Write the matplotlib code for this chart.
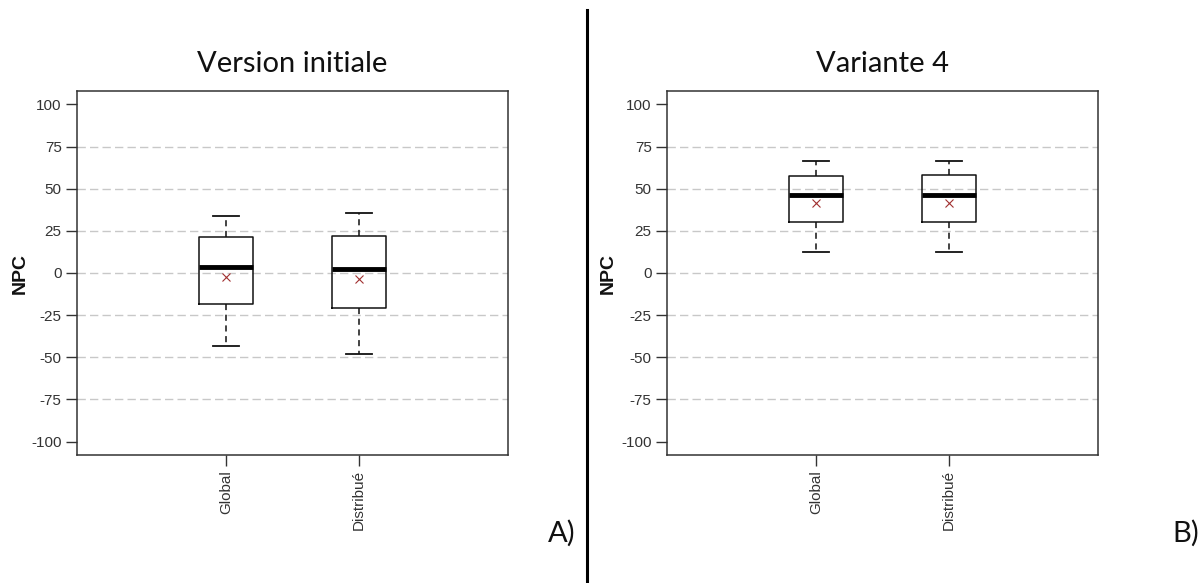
import matplotlib
matplotlib.use("Agg")
import matplotlib.pyplot as plt
from matplotlib.lines import Line2D

categories = ["Global", "Distribué"]
titles = ["Version initiale", "Variante 4"]
panel_labels = ["A)", "B)"]

# Panel A: Version initiale
a_whislo = [-43.1, -47.9]
a_q1 = [-18.1, -21.0]
a_med = [3.3, 2.5]
a_q3 = [21.6, 22.2]
a_whishi = [34.1, 35.4]
a_mean = [-2.5, -3.3]

# Panel B: Variante 4
b_whislo = [12.2, 12.2]
b_q1 = [30.0, 30.0]
b_med = [46.4, 46.4]
b_q3 = [57.4, 58.0]
b_whishi = [66.7, 66.7]
b_mean = [41.3, 41.3]

yticks = [-100, -75, -50, -25, 0, 25, 50, 75, 100]
grid_vals = [-75, -50, -25, 0, 25, 50, 75]

plt.rcParams['font.family'] = ['Liberation Sans', 'DejaVu Sans']

fig = plt.figure(figsize=(12.04, 5.83), dpi=100)
fig.patch.set_facecolor('white')

panels = [
    (a_whislo, a_q1, a_med, a_q3, a_whishi, a_mean),
    (b_whislo, b_q1, b_med, b_q3, b_whishi, b_mean),
]
lefts = [77 / 1204, 667 / 1204]
label_x = [-0.111, -0.116]
W = 431 / 1204
B = 1 - 455 / 583
H = (455 - 91) / 583

for i, (wl, q1, med, q3, wh, mn) in enumerate(panels):
    ax = fig.add_axes([lefts[i], B, W, H])
    for g in grid_vals:
        ax.axhline(g, color='#c8c8c8', lw=1.0, ls=(0, (6, 3)), zorder=0)
    stats = []
    for k in range(len(categories)):
        stats.append(dict(whislo=wl[k], q1=q1[k], med=med[k], q3=q3[k],
                          whishi=wh[k], mean=mn[k], label=categories[k]))
    ax.bxp(stats, positions=[1, 2], widths=0.41, showmeans=True,
           showfliers=False, patch_artist=False,
           boxprops=dict(color='#111111', lw=1.1),
           medianprops=dict(color='black', lw=3.5, solid_capstyle='butt'),
           whiskerprops=dict(color='#111111', lw=1.1, ls=(0, (4, 3))),
           capprops=dict(color='#111111', lw=1.3),
           capwidths=0.2,
           meanprops=dict(marker='x', markeredgecolor='#a03030',
                          markerfacecolor='none', markersize=6, mew=0.8),
           zorder=3)
    ax.set_xlim(-0.12, 3.12)
    ax.set_ylim(-108, 108)
    ax.set_yticks(yticks)
    ax.set_yticklabels([str(v) for v in yticks], fontsize=11, color='#333333')
    ax.set_xticks([1, 2])
    ax.set_xticklabels(categories, rotation=90, fontsize=11, color='#333333')
    ax.tick_params(axis='both', length=8, width=1.0, color='#333333', pad=3)
    for s in ax.spines.values():
        s.set_color('#333333')
        s.set_linewidth(1.1)
    ax.set_ylabel("NPC", fontsize=14, fontweight='bold', color='#111111')
    ax.yaxis.set_label_coords(label_x[i], 0.5)
    ax.set_title(titles[i], fontsize=21, family=['Lato', 'DejaVu Sans'],
                 color='#111111', pad=14)

fig.text(548 / 1204, 1 - 542 / 583, panel_labels[0], fontsize=21,
         family=['Lato', 'DejaVu Sans'], va='baseline', ha='left', color='#111111')
fig.text(1172 / 1204, 1 - 542 / 583, panel_labels[1], fontsize=21,
         family=['Lato', 'DejaVu Sans'], va='baseline', ha='left', color='#111111')

fig.add_artist(Line2D([587 / 1204, 587 / 1204], [0, 1 - 10 / 583],
                      transform=fig.transFigure, color='black', lw=2.2))

fig.savefig("out.png", dpi=100, facecolor='white')
